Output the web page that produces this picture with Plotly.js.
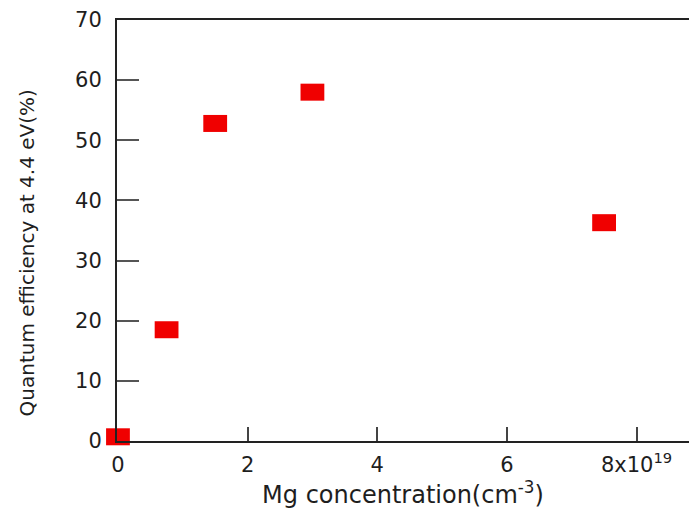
<!DOCTYPE html>
<html>
<head>
<meta charset="utf-8">
<script src="https://cdn.plot.ly/plotly-3.0.1.min.js"></script>
<style>
  html, body { margin: 0; padding: 0; background: #fff; }
  #chart { width: 689px; height: 511px; }
</style>
</head>
<body>
<div id="chart"></div>
<script>
// Mg concentration (units of 1e19 cm^-3) and quantum efficiency at 4.4 eV (%)
const mgConc = [0, 0.75, 1.5, 3.0, 7.5];
const quantumEff = [0.7, 18.5, 52.8, 58.0, 36.3];

const xTickVals = [0, 2, 4, 6, 8];
const xTickText = ['0', '2', '4', '6', '8x10<sup>19</sup>'];
const yTickVals = [0, 10, 20, 30, 40, 50, 60, 70];

const font = 'DejaVu Sans, Verdana, sans-serif';
const textColor = '#1e1e1e';
const markColor = '#f00000';

// Wide rectangular markers: a thick horizontal stroke with butt ends
const trace = {
  x: mgConc,
  y: quantumEff,
  type: 'scatter',
  mode: 'markers',
  cliponaxis: false,
  marker: {
    symbol: 'line-ew',
    size: 17,
    color: markColor,
    line: { color: markColor, width: 17 }
  },
  hoverinfo: 'x+y',
  showlegend: false
};

const layout = {
  width: 689,
  height: 511,
  margin: { l: 117, r: 0, t: 20, b: 70 },
  paper_bgcolor: '#ffffff',
  plot_bgcolor: '#ffffff',
  font: { family: font, size: 21, color: textColor },
  showlegend: false,
  xaxis: {
    range: [-0.015, 8.81],
    tickvals: xTickVals,
    ticktext: xTickText,
    ticks: 'inside',
    ticklen: 14,
    tickwidth: 2,
    tickcolor: '#444',
    ticklabelstandoff: 4,
    showline: true,
    linecolor: '#222',
    linewidth: 2,
    mirror: true,
    showgrid: false,
    zeroline: false,
    tickfont: { family: font, size: 21, color: textColor },
    title: {
      text: 'Mg concentration(cm<sup>-3</sup>)',
      font: { family: font, size: 24, color: textColor },
      standoff: 6
    }
  },
  yaxis: {
    range: [0, 70],
    tickvals: yTickVals,
    ticks: 'inside',
    ticklen: 22,
    tickwidth: 2,
    tickcolor: '#555',
    ticklabelstandoff: 9,
    showline: true,
    linecolor: '#222',
    linewidth: 2,
    showgrid: false,
    zeroline: false,
    tickfont: { family: font, size: 21, color: textColor }
  },
  annotations: [{
    text: 'Quantum efficiency at 4.4 eV(%)',
    xref: 'paper', yref: 'paper',
    x: -0.157, y: 0.446,
    xanchor: 'center', yanchor: 'middle',
    textangle: -90,
    showarrow: false,
    font: { family: font, size: 20, color: textColor }
  }]
};

Plotly.newPlot('chart', [trace], layout, { displayModeBar: false, staticPlot: true });
</script>
</body>
</html>
